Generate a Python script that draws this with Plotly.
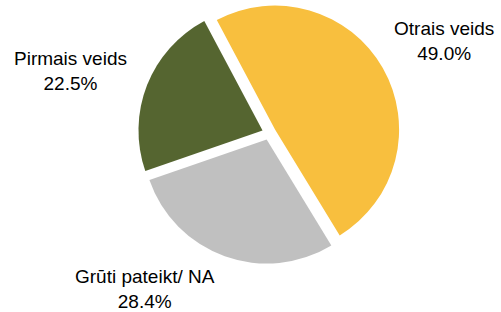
import plotly.graph_objects as go

labels = ["Otrais veids", "Grūti pateikt/ NA", "Pirmais veids"]
values = [49.0, 28.4, 22.5]
colors = ["#F8BF3E", "#C0C0C0", "#556530"]

# label block centres in pixels (x, y) for a 501x312 canvas
label_pos = [(444, 41), (145, 289), (70, 71)]

W, H = 501, 312

fig = go.Figure(go.Pie(
    labels=labels,
    values=values,
    sort=False,
    direction="clockwise",
    rotation=-28,
    pull=[0.056, 0.056, 0.056],
    marker=dict(colors=colors, line=dict(width=0)),
    textinfo="none",
    hoverinfo="label+percent",
    domain=dict(x=[(269 - 131) / W, (269 + 131) / W], y=[1 - 264 / H, 1 - 2 / H]),
    showlegend=False,
))

annotations = []
for lab, val, (px, py) in zip(labels, values, label_pos):
    annotations.append(dict(
        text=f"{lab}<br>{val:.1f}%",
        x=px / W, y=1 - py / H, xref="paper", yref="paper",
        xanchor="center", yanchor="middle", showarrow=False,
        font=dict(family="Liberation Sans, Arial, sans-serif", size=19, color="#000000"),
    ))

fig.update_layout(
    width=W, height=H,
    margin=dict(l=0, r=0, t=0, b=0),
    paper_bgcolor="white", plot_bgcolor="white",
    annotations=annotations,
)

fig.write_html("out.html", config={"displayModeBar": False},
               post_script="document.body.style.margin='0';")
